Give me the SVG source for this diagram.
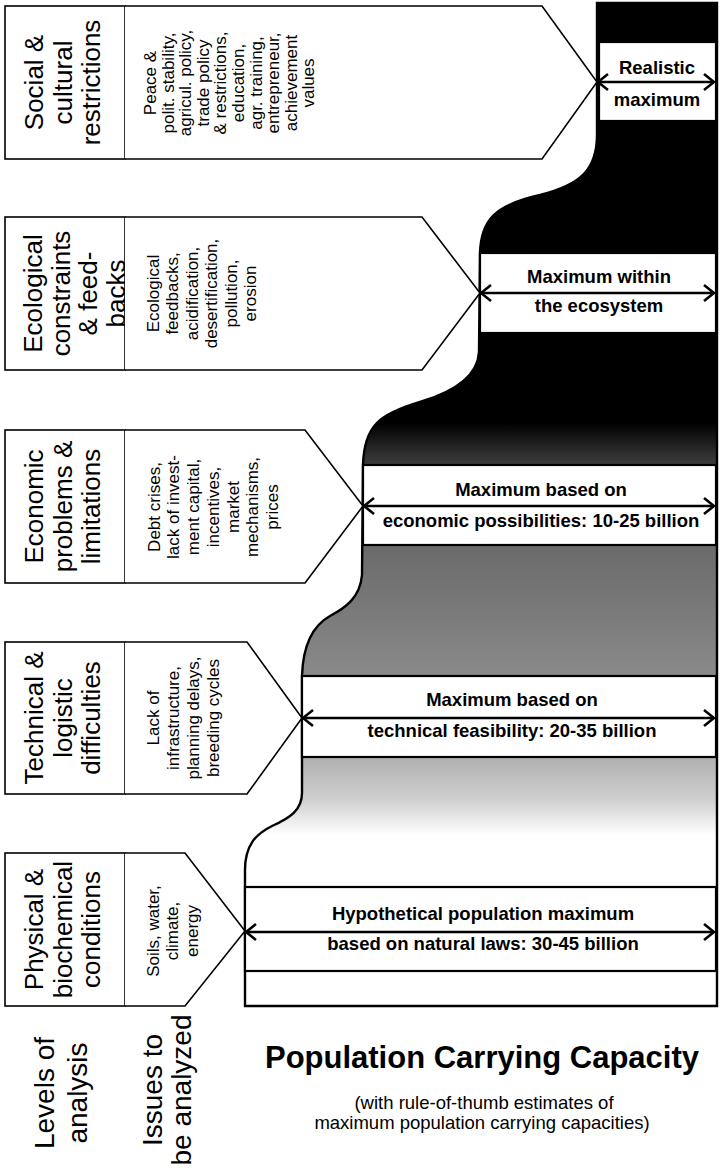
<svg xmlns="http://www.w3.org/2000/svg" width="721" height="1171" viewBox="0 0 721 1171">
<style>
.lvl{fill:#fff;stroke:#000;stroke-width:1.6}
.iss{fill:#fff;stroke:#000;stroke-width:1.6;stroke-linejoin:miter}
.cap{fill:#fff;stroke:#000;stroke-width:2.2}
.t1{font-family:"Liberation Sans",Arial,Helvetica,sans-serif;font-size:26px;fill:#000;text-anchor:middle}
.t2{font-family:"Liberation Sans",Arial,Helvetica,sans-serif;font-size:17px;fill:#000;text-anchor:middle}
.t3{font-family:"Liberation Sans",Arial,Helvetica,sans-serif;font-size:18.5px;font-weight:bold;fill:#000;text-anchor:middle}
.t4{font-family:"Liberation Sans",Arial,Helvetica,sans-serif;font-size:28px;fill:#000;text-anchor:middle}
.arr{stroke:#000;stroke-width:2.6;fill:none;marker-start:url(#chev);marker-end:url(#chev)}
</style>
<defs>
<linearGradient id="shade" gradientUnits="userSpaceOnUse" x1="0" y1="0" x2="0" y2="1006">
<stop offset="0" stop-color="#000"/>
<stop offset="0.42" stop-color="#000"/>
<stop offset="0.459" stop-color="#3a3a3a"/>
<stop offset="0.542" stop-color="#6a6a6a"/>
<stop offset="0.672" stop-color="#8a8a8a"/>
<stop offset="0.752" stop-color="#b0b0b0"/>
<stop offset="0.795" stop-color="#cfcfcf"/>
<stop offset="0.83" stop-color="#fff"/>
<stop offset="1" stop-color="#fff"/>
</linearGradient>
<marker id="chev" viewBox="-12 -10 14 20" refX="0" refY="0" markerWidth="14" markerHeight="20" markerUnits="userSpaceOnUse" orient="auto-start-reverse">
<path d="M-10,-8 L0,0 L-10,8" fill="none" stroke="#000" stroke-width="2.6"/>
</marker>
</defs>
<rect width="721" height="1171" fill="#fff"/>

<g id="chart-silhouette">
<path d="M597,3 L597,135 C597,170 580,185 540,195 C495,205 481,220 480,253 L479,352 C478,372 460,390 420,402 C380,414 364,425 363,465 L362,575 C360,598 345,608 330,616 C312,626 303,645 302,676 L302,793 C302,810 290,818 272,826 C256,834 245,845 245,870 L245,1006 L717,1006 L717,3 Z" fill="url(#shade)" stroke="#000" stroke-width="2.4"/>
</g>

<g id="level-social">
<rect class="lvl" x="5" y="6" width="120" height="153"/>
<text class="t1" transform="translate(0,82.5) rotate(-90)"><tspan x="0" y="43">Social &amp;</tspan><tspan x="0" y="71.5">cultural</tspan><tspan x="0" y="100">restrictions</tspan></text>
</g>
<g id="issues-social">
<path class="iss" d="M125,6 L542,6 L597,82 L542,159 L125,159"/>
<text class="t2" transform="translate(0,83) rotate(-90)"><tspan x="0" y="156">Peace &amp;</tspan><tspan x="0" y="173.6">polit. stability,</tspan><tspan x="0" y="191.2">agricul. policy,</tspan><tspan x="0" y="208.8">trade policy</tspan><tspan x="0" y="226.4">&amp; restrictions,</tspan><tspan x="0" y="244">education,</tspan><tspan x="0" y="261.6">agr. training,</tspan><tspan x="0" y="279.2">entrepreneur,</tspan><tspan x="0" y="296.8">achievement</tspan><tspan x="0" y="314.4">values</tspan></text>
</g>

<g id="level-ecological">
<rect class="lvl" x="5" y="217" width="120" height="153"/>
<text class="t1" transform="translate(0,293.5) rotate(-90)"><tspan x="0" y="42">Ecological</tspan><tspan x="0" y="69.5">constraints</tspan><tspan x="0" y="97">&amp; feed-</tspan><tspan x="0" y="124.5">backs</tspan></text>
</g>
<g id="issues-ecological">
<path class="iss" d="M125,217 L422,217 L480,293 L422,370 L125,370"/>
<text class="t2" transform="translate(0,293.5) rotate(-90)"><tspan x="0" y="158.5">Ecological</tspan><tspan x="0" y="178">feedbacks,</tspan><tspan x="0" y="197.5">acidification,</tspan><tspan x="0" y="217">desertification,</tspan><tspan x="0" y="236.5">pollution,</tspan><tspan x="0" y="256">erosion</tspan></text>
</g>

<g id="level-economic">
<rect class="lvl" x="5" y="430" width="120" height="153"/>
<text class="t1" transform="translate(0,506.5) rotate(-90)"><tspan x="0" y="43">Economic</tspan><tspan x="0" y="71.5">problems &amp;</tspan><tspan x="0" y="100">limitations</tspan></text>
</g>
<g id="issues-economic">
<path class="iss" d="M125,430 L305,430 L363,506 L305,583 L125,583"/>
<text class="t2" transform="translate(0,507) rotate(-90)"><tspan x="0" y="159.5">Debt crises,</tspan><tspan x="0" y="179.2">lack of invest-</tspan><tspan x="0" y="199">ment capital,</tspan><tspan x="0" y="218.7">incentives,</tspan><tspan x="0" y="238.5">market</tspan><tspan x="0" y="258.2">mechanisms,</tspan><tspan x="0" y="278">prices</tspan></text>
</g>

<g id="level-technical">
<rect class="lvl" x="5" y="642" width="120" height="152"/>
<text class="t1" transform="translate(0,718) rotate(-90)"><tspan x="0" y="43">Technical &amp;</tspan><tspan x="0" y="71.5">logistic</tspan><tspan x="0" y="100">difficulties</tspan></text>
</g>
<g id="issues-technical">
<path class="iss" d="M125,642 L247,642 L302,718 L247,794 L125,794"/>
<text class="t2" transform="translate(0,718) rotate(-90)"><tspan x="0" y="158.5">Lack of</tspan><tspan x="0" y="178.5">infrastructure,</tspan><tspan x="0" y="198.5">planning delays,</tspan><tspan x="0" y="218.5">breeding cycles</tspan></text>
</g>

<g id="level-physical">
<rect class="lvl" x="5" y="853" width="120" height="153"/>
<text class="t1" transform="translate(0,929.5) rotate(-90)"><tspan x="0" y="43">Physical &amp;</tspan><tspan x="0" y="71.5">biochemical</tspan><tspan x="0" y="100">conditions</tspan></text>
</g>
<g id="issues-physical">
<path class="iss" d="M125,853 L185,853 L245,931 L185,1006 L125,1006"/>
<text class="t2" transform="translate(0,931) rotate(-90)"><tspan x="0" y="158.5">Soils, water,</tspan><tspan x="0" y="178">climate,</tspan><tspan x="0" y="197.5">energy</tspan></text>
</g>

<g id="cap-realistic">
<rect class="cap" x="599" y="42" width="117" height="79"/>
<text class="t3" x="657" y="74">Realistic</text>
<text class="t3" x="657" y="106">maximum</text>
</g>
<g id="cap-ecosystem">
<rect class="cap" x="480" y="253" width="236" height="80"/>
<text class="t3" x="599" y="283">Maximum within</text>
<text class="t3" x="599" y="312">the ecosystem</text>
</g>
<g id="cap-economic">
<rect class="cap" x="363" y="465" width="353" height="80"/>
<text class="t3" x="541" y="496">Maximum based on</text>
<text class="t3" x="541" y="527">economic possibilities: 10-25 billion</text>
</g>
<g id="cap-technical">
<rect class="cap" x="302" y="676" width="414" height="81"/>
<text class="t3" x="512" y="706">Maximum based on</text>
<text class="t3" x="512" y="737">technical feasibility: 20-35 billion</text>
</g>
<g id="cap-physical">
<rect class="cap" x="245" y="887" width="471" height="84"/>
<text class="t3" x="483" y="920">Hypothetical population maximum</text>
<text class="t3" x="483" y="950">based on natural laws: 30-45 billion</text>
</g>

<g id="connectors">
<line class="arr" x1="598" y1="82" x2="714" y2="82"/>
<line class="arr" x1="481" y1="293" x2="714" y2="293"/>
<line class="arr" x1="364" y1="506" x2="714" y2="506"/>
<line class="arr" x1="303" y1="718" x2="714" y2="718"/>
<line class="arr" x1="246" y1="932" x2="714" y2="932"/>
</g>

<g id="captions">
<text class="t4" transform="translate(0,1093) rotate(-90)"><tspan x="0" y="54">Levels of</tspan><tspan x="0" y="87">analysis</tspan></text>
<text class="t4" transform="translate(0,1090) rotate(-90)"><tspan x="0" y="162">Issues to</tspan><tspan x="0" y="191">be analyzed</tspan></text>
<text x="482" y="1068" font-family="'Liberation Sans',Arial,Helvetica,sans-serif" font-size="31" font-weight="bold" text-anchor="middle">Population Carrying Capacity</text>
<text x="484" y="1109" font-family="'Liberation Sans',Arial,Helvetica,sans-serif" font-size="18.5" text-anchor="middle">(with rule-of-thumb estimates of</text>
<text x="482" y="1129" font-family="'Liberation Sans',Arial,Helvetica,sans-serif" font-size="18.5" text-anchor="middle">maximum population carrying capacities)</text>
</g>
</svg>
